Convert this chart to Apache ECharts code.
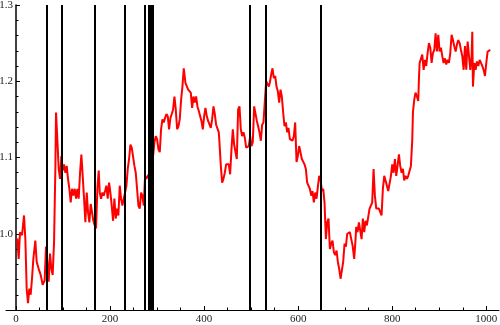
<!DOCTYPE html>
<html>
<head>
<meta charset="utf-8">
<script src="https://cdn.jsdelivr.net/npm/echarts@6/dist/echarts.min.js"></script>
<style>
html,body{margin:0;padding:0;background:#fff;}
#chart{width:500px;height:325px;}
</style>
</head>
<body>
<div id="chart"></div>
<script>
var xValues = [
2.8,5.7,8.5,12.8,17,19.9,22.7,25.5,28.4,31.2,34,36.9,41.1,44,48.2,52.5,56.7,61,63.8,66.7,69.5,72.3,75.2,78,80.9,82.3,83.7,85.1,87.9,90.8,93.6,96.5,99.3,102.1,105,107.8,110.6,113.5,116.3,119.1,122,124.8,127.7,130.5,133.3,136.2,139,141.8,144.7,147.5,150.4,153.2,156,158.9,161.7,164.5,167.4,170.2,173,175.9,
178,180.9,183.7,186.5,189.4,192.2,195,197.9,200.7,203.5,206.4,209.2,212.1,214.9,217.7,220.6,223.4,226.2,229.1,231.9,234.8,237.6,240.4,243.3,246.1,248.9,251.8,254.6,257.4,260.3,263.1,266,268.8,271.6,274.5,277.3,280.1,283,285.8,288.7,291.5,294.3,297.2,300,302.8,305.7,308.5,311.3,314.2,317,319.9,322.7,325.5,328.4,331.2,334,336.9,339.7,342.6,345.4,348.2,351.1,353.9,356.7,
360.3,363.1,366,368.8,371.6,374.5,377.3,380.1,383,385.8,388.7,391.5,394.3,397.2,400,402.8,405.7,408.5,411.3,414.2,417,419.9,422.7,425.5,428.4,431.2,432.6,435.5,438.3,441.1,444,446.8,449.6,452.5,455.3,458.2,461,463.8,466.7,469.5,472.3,475.2,478,480.9,483.7,486.5,489.4,492.2,495,497.9,500.7,503.5,506.4,509.2,512.1,514.9,517.7,520.6,523.4,526.2,529.1,531.9,534.8,537.6,
539.7,542.6,545.4,548.2,551.1,553.9,556.7,559.6,562.4,565.2,568.1,570.9,573.8,576.6,579.4,582.3,585.1,587.9,590.8,593.6,596.5,599.3,602.1,605,607.8,610.6,613.5,616.3,619.1,622,624.8,627.7,630.5,633.3,636.2,639,641.8,644.7,647.5,650.4,653.2,656,658.9,661.7,664.5,667.4,670.2,673,675.9,678.7,681.6,684.4,687.2,690.1,692.9,695.7,698.6,701.4,704.3,707.1,709.9,712.8,715.6,
719.1,722,723.4,726.2,729.1,731.9,734.8,737.6,740.4,743.3,746.1,748.9,751.8,754.6,757.4,760.3,763.1,766,768.8,771.6,774.5,777.3,780.1,783,785.8,788.7,791.5,794.3,797.2,800,802.8,805.7,808.5,811.3,814.2,817,819.9,822.7,825.5,828.4,831.2,834,836.9,839.7,842.6,844,846.8,849.6,852.5,855.3,
856.7,858.2,861,863.8,866.7,869.5,872.3,875.2,878,880.9,883.7,886.5,889.4,892.2,895,897.9,900.7,903.5,906.4,909.2,912.1,914.9,917.7,920.6,923.4,926.2,929.1,931.9,934.8,937.6,940.4,943.3,946.1,948.9,951.8,954.6,957.4,960.3,963.1,966,968.8,970.2,971.6,974.5,977.3,980.1,983,985.8,988.7,991.5,994.3,997.2,1000,1002.8,1005.7,1008.5
];
var yValues = [
0.994,0.967,1.002,0.998,1.024,0.993,0.928,0.909,0.928,0.920,0.941,0.967,0.991,0.963,0.954,0.946,0.933,0.939,0.983,0.963,0.937,0.974,0.954,0.946,0.989,1.037,1.085,1.159,1.124,1.085,1.072,1.102,1.083,1.091,1.080,1.089,1.072,1.059,1.041,1.059,1.050,1.059,1.046,1.059,1.046,1.080,1.104,1.076,1.046,1.015,1.054,1.028,1.015,1.039,1.037,1.017,1.011,1.007,1.059,1.083,
1.054,1.046,1.054,1.050,1.056,1.063,1.046,1.067,1.054,1.037,1.017,1.046,1.020,1.033,1.024,1.063,1.046,1.037,1.046,1.054,1.063,1.085,1.098,1.117,1.113,1.113,1.089,1.080,1.059,1.037,1.033,1.054,1.050,1.037,1.076,1.072,1.076,1.076,1.080,1.089,1.102,1.120,1.128,1.124,1.111,1.107,1.137,1.150,1.146,1.152,1.157,1.154,1.137,1.152,1.157,1.163,1.180,1.163,1.137,1.141,1.150,1.176,1.193,1.217,
1.198,1.200,1.189,1.191,1.185,1.165,1.180,1.172,1.180,1.167,1.161,1.159,1.148,1.137,1.154,1.165,1.154,1.148,1.150,1.139,1.150,1.167,1.157,1.143,1.141,1.133,1.120,1.089,1.067,1.072,1.080,1.091,1.089,1.091,1.078,1.111,1.137,1.117,1.115,1.098,1.163,1.167,1.137,1.128,1.133,1.126,1.113,1.111,1.115,1.128,1.115,1.120,1.167,1.165,1.148,1.141,1.133,1.122,1.143,1.146,1.148,1.200,1.202,1.193,
1.198,1.209,1.217,1.204,1.207,1.193,1.187,1.172,1.189,1.180,1.159,1.141,1.146,1.133,1.139,1.124,1.124,1.122,1.128,1.146,1.094,1.102,1.115,1.113,1.098,1.100,1.091,1.085,1.067,1.065,1.059,1.050,1.056,1.041,1.054,1.046,1.061,1.076,1.072,1.056,1.059,1.041,0.993,1.015,1.020,0.980,0.987,0.991,0.976,0.972,0.978,0.963,0.954,0.941,0.941,0.963,0.987,0.983,1.000,1.000,1.002,0.993,0.985,
0.967,0.993,1.009,1.002,1.015,1.004,0.993,1.020,1.002,1.017,1.011,1.011,1.033,1.037,1.041,1.085,1.050,1.033,1.035,1.033,1.035,1.024,1.059,1.076,1.078,1.063,1.056,1.054,1.076,1.091,1.080,1.098,1.076,1.089,1.104,1.089,1.080,1.085,1.070,1.076,1.072,1.076,1.078,1.089,1.124,1.159,1.176,1.185,1.180,1.174,
1.202,1.224,1.226,1.235,1.215,1.228,1.220,1.237,1.250,1.244,1.224,1.237,1.241,1.263,1.239,1.261,1.239,1.244,1.233,1.224,1.230,1.222,1.228,1.224,1.237,1.261,1.254,1.246,1.239,1.248,1.254,1.250,1.241,1.233,1.215,1.246,1.215,1.252,1.250,1.215,1.233,1.265,1.193,1.224,1.215,1.226,1.220,1.228,1.224,1.220,1.215,1.207,1.224,1.239,1.237,1.241
];
var eventTimes = [66, 97, 167, 232, 273, 282, 286, 290, 496, 531, 647];
var xTickLabels = [0, 200, 400, 600, 800, 1000];
var xMinorTicks = [50, 100, 150, 250, 300, 350, 450, 500, 550, 650, 700, 750, 850, 900, 950];
var yTickLabels = [1.0, 1.1, 1.2, 1.3];

var seriesData = xValues.map(function (x, i) { return [x, yValues[i]]; });

var chart = echarts.init(document.getElementById('chart'), null, {renderer: 'canvas'});
var labelFont = {fontFamily: 'Liberation Serif', fontSize: 11, color: '#222'};
chart.setOption({
  animation: false,
  backgroundColor: '#fff',
  grid: [
    {left: 6, right: 1, top: 5, bottom: 15, containLabel: false, outerBoundsMode: 'none'},
    {left: 16, right: 1, top: 5, bottom: 15, containLabel: false, outerBoundsMode: 'none'}
  ],
  xAxis: [{
    gridIndex: 0, type: 'value', min: -21, max: 1027,
    axisLine: {onZero: false, lineStyle: {color: '#000', width: 1}},
    axisTick: {inside: true, length: 4, customValues: xTickLabels, lineStyle: {color: '#000'}},
    axisLabel: Object.assign({customValues: xTickLabels, margin: 4, formatter: function (v) { return String(v); }}, labelFont),
    splitLine: {show: false}
  }, {
    gridIndex: 0, type: 'value', min: -21, max: 1027, position: 'bottom',
    axisLine: {show: false, onZero: false},
    axisTick: {inside: true, length: 2.5, customValues: xMinorTicks, lineStyle: {color: '#000'}},
    axisLabel: {show: false},
    splitLine: {show: false}
  }, {
    gridIndex: 1, type: 'value', min: 0, max: 1027, show: false,
    axisLine: {onZero: false}, splitLine: {show: false}
  }],
  yAxis: [{
    gridIndex: 0, type: 'value', min: 0.9, max: 1.3, show: false, splitLine: {show: false}
  }, {
    gridIndex: 1, type: 'value', min: 0.9, max: 1.3, interval: 0.1,
    axisLine: {show: true, onZero: false, lineStyle: {color: '#000', width: 1.5}},
    axisTick: {inside: true, length: 4, lineStyle: {color: '#000'}},
    minorTick: {show: true, splitNumber: 5, length: 2.5, lineStyle: {color: '#000'}},
    axisLabel: Object.assign({
      margin: 3, showMinLabel: false,
      formatter: function (v) { return yTickLabels.some(function (t) { return Math.abs(t - v) < 1e-6; }) ? v.toFixed(1) : ''; }
    }, labelFont),
    splitLine: {show: false}
  }],
  series: [{
    type: 'line', xAxisIndex: 2, yAxisIndex: 1, data: [], z: 1, silent: true,
    markLine: {
      silent: true, symbol: ['none', 'none'], label: {show: false},
      lineStyle: {color: '#000', width: 2, type: 'solid'},
      data: eventTimes.map(function (t) { return {xAxis: t}; })
    }
  }, {
    type: 'line', xAxisIndex: 2, yAxisIndex: 1, data: seriesData, z: 2, showSymbol: false, symbol: 'none',
    lineStyle: {color: '#ff0000', width: 2}, itemStyle: {color: '#ff0000'}
  }]
});
</script>
</body>
</html>
